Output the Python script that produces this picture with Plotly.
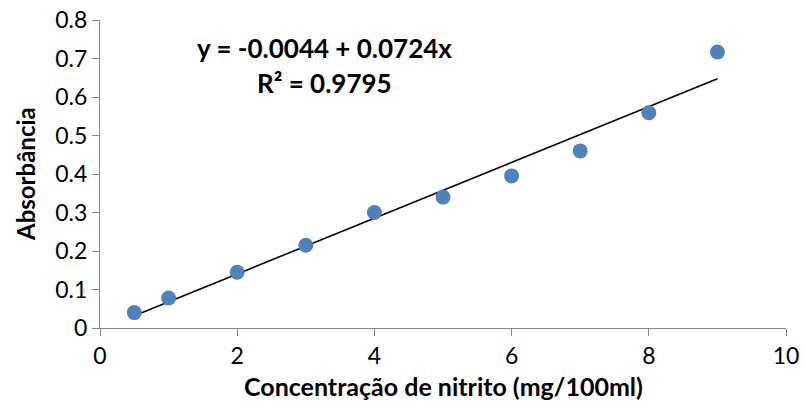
import plotly.graph_objects as go

conc = [0.5, 1, 2, 3, 4, 5, 6, 7, 8, 9]
absorb = [0.040, 0.078, 0.145, 0.215, 0.300, 0.340, 0.395, 0.460, 0.559, 0.717]
intercept = -0.0044
slope = 0.0724
r2 = 0.9795

x_ticks = [0, 2, 4, 6, 8, 10]
y_ticks = [0, 0.1, 0.2, 0.3, 0.4, 0.5, 0.6, 0.7, 0.8]
y_tick_text = ["0", "0.1", "0.2", "0.3", "0.4", "0.5", "0.6", "0.7", "0.8"]

trend_x = [min(conc), max(conc)]
trend_y = [intercept + slope * v for v in trend_x]

FONT = "Lato, Open Sans, sans-serif"

fig = go.Figure()
fig.add_trace(go.Scatter(x=trend_x, y=trend_y, mode="lines",
                         line=dict(color="black", width=1.6), showlegend=False))
fig.add_trace(go.Scatter(x=conc, y=absorb, mode="markers",
                         marker=dict(color="#4F81BD", size=15, line=dict(width=0)),
                         showlegend=False))

fig.add_annotation(x=3.27, y=0.728, xref="x", yref="y",
                   text="<b>y = -0.0044 + 0.0724x</b>", showarrow=False,
                   font=dict(family=FONT, size=26, color="black"))
fig.add_annotation(x=3.27, y=0.636, xref="x", yref="y",
                   text="<b>R² = 0.9795</b>", showarrow=False,
                   font=dict(family=FONT, size=26, color="black"))

# axis titles
fig.add_annotation(x=0.5, y=0, xref="paper", yref="paper", yshift=-58,
                   xanchor="center", yanchor="middle",
                   text="<b>Concentração de nitrito (mg/100ml)</b>", showarrow=False,
                   font=dict(family=FONT, size=25, color="black"))
fig.add_annotation(x=0, y=0.5, xref="paper", yref="paper", xshift=-75, textangle=-90,
                   xanchor="center", yanchor="middle",
                   text="<b>Absorbância</b>", showarrow=False,
                   font=dict(family=FONT, size=24, color="black"))

axis_common = dict(showgrid=False, zeroline=False, showline=True,
                   linecolor="#868686", linewidth=1, ticks="outside",
                   tickcolor="#868686", ticklen=7, tickwidth=1, automargin=False,
                   tickfont=dict(family=FONT, size=23, color="black"))

fig.update_xaxes(range=[0, 10], tickvals=x_ticks, **axis_common)
fig.update_yaxes(range=[0, 0.8], tickvals=y_ticks, ticktext=y_tick_text, **axis_common)

fig.update_layout(width=805, height=411,
                  margin=dict(l=100, r=19, t=20, b=83),
                  plot_bgcolor="white", paper_bgcolor="white")

fig.write_html("out.html", config={"displayModeBar": False},
               post_script="document.body.style.margin='0';document.body.style.overflow='hidden';")
